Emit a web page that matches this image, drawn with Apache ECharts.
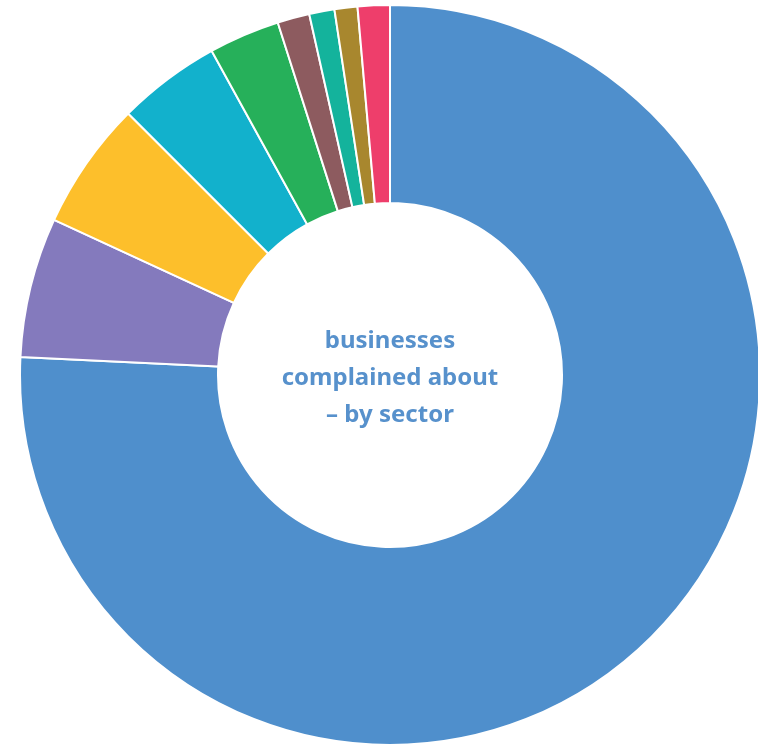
<!DOCTYPE html>
<html>
<head>
<meta charset="utf-8">
<script src="https://cdn.jsdelivr.net/npm/echarts@6/dist/echarts.min.js"></script>
<style>
  html, body { margin: 0; padding: 0; background: #fff; }
  #chart { width: 758px; height: 747px; }
</style>
</head>
<body>
<div id="chart"></div>
<script>
// sectors clockwise from 12 o'clock, share of complaints (%)
const sectors = ['Sector 1', 'Sector 2', 'Sector 3', 'Sector 4', 'Sector 5', 'Sector 6', 'Sector 7', 'Sector 8', 'Sector 9']
const shares = [75.7, 6.1, 5.6, 4.5, 3.1, 1.4, 1.1, 1.0, 1.4]
const colors = ['#4f8fcc', '#847abd', '#fdbf2b', '#12b1cc', '#26b05a', '#8d5b5f', '#14b39c', '#a8872e', '#ee3e6b']

const chart = echarts.init(document.getElementById('chart'))

const option = {
  animation: false,
  color: colors,
  graphic: [
    {
      type: 'text',
      x: 390,
      y: 378,
      style: {
        text: 'businesses\ncomplained about\n– by sector',
        align: 'center',
        verticalAlign: 'middle',
        fill: '#5791cc',
        font: 'bold 24px "Noto Sans", sans-serif',
        lineHeight: 37
      }
    }
  ],
  series: [
    {
      name: 'businesses complained about',
      type: 'pie',
      center: [390, 375],
      radius: [172, 370],
      startAngle: 90,
      clockwise: true,
      avoidLabelOverlap: false,
      label: { show: false },
      labelLine: { show: false },
      itemStyle: {
        borderColor: '#fff',
        borderWidth: 2
      },
      data: sectors.map((name, i) => ({ name, value: shares[i] }))
    }
  ]
}

chart.setOption(option)
</script>
</body>
</html>
